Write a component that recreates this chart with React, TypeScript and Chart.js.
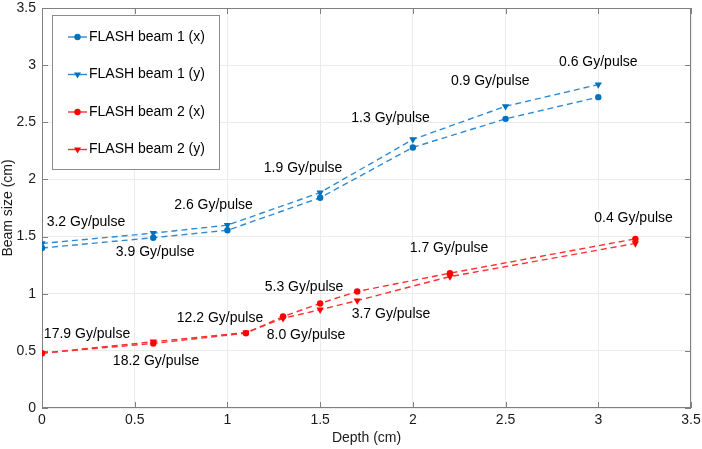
import { useEffect, useRef } from "react";
import { Chart, registerables } from "chart.js";
import type { Plugin } from "chart.js";

Chart.register(...registerables);

// Beam size vs depth, two FLASH beams, x and y profiles
const depthBeam1 = [0, 0.6, 1.0, 1.5, 2.0, 2.5, 3.0];
const beam1X = [1.4, 1.49, 1.555, 1.84, 2.28, 2.53, 2.72];
const beam1Y = [1.44, 1.53, 1.6, 1.885, 2.35, 2.64, 2.83];

const depthBeam2 = [0, 0.6, 1.1, 1.3, 1.5, 1.7, 2.2, 3.2];
const beam2X = [0.48, 0.565, 0.655, 0.8, 0.915, 1.02, 1.18, 1.48];
const beam2Y = [0.48, 0.58, 0.66, 0.785, 0.86, 0.94, 1.15, 1.44];

const seriesNames = ["FLASH beam 1 (x)", "FLASH beam 1 (y)", "FLASH beam 2 (x)", "FLASH beam 2 (y)"];

// dose-rate labels, anchored in data units (text centre)
const doseText = [
  "3.2 Gy/pulse", "3.9 Gy/pulse", "2.6 Gy/pulse", "1.9 Gy/pulse", "1.3 Gy/pulse",
  "0.9 Gy/pulse", "0.6 Gy/pulse", "0.4 Gy/pulse", "1.7 Gy/pulse", "5.3 Gy/pulse",
  "3.7 Gy/pulse", "12.2 Gy/pulse", "8.0 Gy/pulse", "17.9 Gy/pulse", "18.2 Gy/pulse",
];
const doseX = [0.237, 0.61, 0.925, 1.408, 1.88, 2.417, 3.0, 3.19, 2.195, 1.413, 1.882, 0.96, 1.424, 0.243, 0.615];
const doseY = [1.63, 1.36, 1.776, 2.1, 2.54, 2.86, 3.03, 1.665, 1.397, 1.059, 0.822, 0.785, 0.639, 0.65, 0.411];

const FONT = "'Liberation Sans', Arial, Helvetica, sans-serif";
const BLUE = "#0072BD";
const BLUE_LINE = "#2f8ad3";
const RED = "#FF0000";
const RED_LINE = "#ff3030";

const toPoints = (xs: number[], ys: number[]) => xs.map((x, i) => ({ x, y: ys[i] }));

function drawMarker(ctx: CanvasRenderingContext2D, style: string, x: number, y: number, color: string) {
  ctx.save();
  ctx.fillStyle = color;
  ctx.beginPath();
  if (style === "circle") {
    ctx.arc(x, y, 3.2, 0, Math.PI * 2);
  } else {
    ctx.moveTo(x - 3.5, y - 2);
    ctx.lineTo(x + 3.5, y - 2);
    ctx.lineTo(x, y + 4);
    ctx.closePath();
  }
  ctx.fill();
  ctx.restore();
}

// frame + inward ticks, MATLAB style
const framePlugin: Plugin<"line"> = {
  id: "frame",
  beforeDatasetsDraw(chart) {
    const { ctx, chartArea: a, scales } = chart;
    ctx.save();
    ctx.strokeStyle = "#808080";
    ctx.lineWidth = 1;
    ctx.strokeRect(a.left + 0.5, a.top + 0.5, a.right - a.left - 1, a.bottom - a.top - 1);
    ctx.beginPath();
    scales.x.ticks.forEach((t) => {
      const px = Math.round(scales.x.getPixelForValue(t.value)) + 0.5;
      ctx.moveTo(px, a.bottom);
      ctx.lineTo(px, a.bottom - 6);
      ctx.moveTo(px, a.top);
      ctx.lineTo(px, a.top + 6);
    });
    scales.y.ticks.forEach((t) => {
      const py = Math.round(scales.y.getPixelForValue(t.value)) + 0.5;
      ctx.moveTo(a.left, py);
      ctx.lineTo(a.left + 6, py);
      ctx.moveTo(a.right, py);
      ctx.lineTo(a.right - 6, py);
    });
    ctx.stroke();
    ctx.restore();
  },
};

const labelsPlugin: Plugin<"line"> = {
  id: "doseLabels",
  afterDatasetsDraw(chart) {
    const { ctx, scales, chartArea: a } = chart;
    ctx.save();
    ctx.fillStyle = "#000";
    ctx.font = `14px ${FONT}`;
    ctx.textAlign = "center";
    ctx.textBaseline = "middle";
    doseText.forEach((txt, i) => {
      ctx.fillText(txt, scales.x.getPixelForValue(doseX[i]), scales.y.getPixelForValue(doseY[i]));
    });

    // legend box in the upper-left corner
    const bx = a.left + 10;
    const by = a.top + 7;
    const bw = 167;
    const bh = 154;
    ctx.fillStyle = "#fff";
    ctx.fillRect(bx, by, bw, bh);
    ctx.strokeStyle = "#8c8c8c";
    ctx.lineWidth = 1;
    ctx.strokeRect(bx + 0.5, by + 0.5, bw, bh);
    ctx.textAlign = "left";
    chart.data.datasets.forEach((ds, i) => {
      const y = by + 22 + i * 37.5;
      const col = ds.pointBackgroundColor as string;
      ctx.strokeStyle = ds.borderColor as string;
      ctx.lineWidth = 1.4;
      ctx.beginPath();
      ctx.moveTo(bx + 16, y);
      ctx.lineTo(bx + 35, y);
      ctx.stroke();
      drawMarker(ctx, i % 2 === 0 ? "circle" : "triangle", bx + 25.5, y, col);
      ctx.fillStyle = "#000";
      ctx.fillText(seriesNames[i], bx + 37, y);
    });
    ctx.restore();
  },
};

const tickText = (v: number | string) => String(Number(v));

export default function App() {
  const canvasRef = useRef<HTMLCanvasElement | null>(null);

  useEffect(() => {
    if (!canvasRef.current) return;

    const makeSet = (label: string, xs: number[], ys: number[], line: string, mark: string, tri: boolean) => ({
      label,
      data: toPoints(xs, ys),
      borderColor: line,
      backgroundColor: mark,
      pointBackgroundColor: mark,
      pointBorderColor: mark,
      borderWidth: 1.4,
      borderDash: [6, 4],
      pointStyle: tri ? "triangle" : "circle",
      pointRotation: tri ? 180 : 0,
      pointRadius: tri ? 4.2 : 3.2,
      pointBorderWidth: 0,
      tension: 0,
    });

    const chart = new Chart(canvasRef.current, {
      type: "line",
      data: {
        datasets: [
          makeSet(seriesNames[0], depthBeam1, beam1X, BLUE_LINE, BLUE, false),
          makeSet(seriesNames[1], depthBeam1, beam1Y, BLUE_LINE, BLUE, true),
          makeSet(seriesNames[2], depthBeam2, beam2X, RED_LINE, RED, false),
          makeSet(seriesNames[3], depthBeam2, beam2Y, RED_LINE, RED, true),
        ],
      } as any,
      options: {
        animation: false,
        responsive: true,
        maintainAspectRatio: false,
        layout: { padding: { top: 8, right: 11, left: 0, bottom: 0 } },
        plugins: {
          legend: { display: false },
          tooltip: { enabled: false },
        },
        scales: {
          x: {
            type: "linear",
            min: 0,
            max: 3.5,
            afterFit: (s: any) => {
              s.height = 41;
              s.paddingLeft = 0;
              s.paddingRight = 0;
            },
            ticks: { stepSize: 0.5, color: "#1a1a1a", padding: 4, font: { family: FONT, size: 14 }, callback: tickText },
            grid: { color: "#ebebeb", drawTicks: false },
            border: { display: false },
            title: {
              display: true,
              text: "Depth (cm)",
              color: "#1a1a1a",
              font: { family: FONT, size: 14 },
              padding: { top: 0, bottom: 2 },
            },
          },
          y: {
            type: "linear",
            min: 0,
            max: 3.5,
            afterFit: (s: any) => {
              s.width = 42;
              s.paddingTop = 0;
              s.paddingBottom = 0;
            },
            ticks: { stepSize: 0.5, color: "#1a1a1a", padding: 6, font: { family: FONT, size: 14 }, callback: tickText },
            grid: { color: "#ebebeb", drawTicks: false },
            border: { display: false },
            title: {
              display: true,
              text: "Beam size (cm)",
              color: "#1a1a1a",
              font: { family: FONT, size: 14 },
              padding: { top: 0, bottom: 0 },
            },
          },
        },
      },
      plugins: [framePlugin, labelsPlugin],
    });

    return () => {
      chart.destroy();
    };
  }, []);

  return (
    <div style={{ position: "fixed", left: 0, top: 0, width: 702, height: 449, background: "#fff" }}>
      <canvas ref={canvasRef} />
    </div>
  );
}
